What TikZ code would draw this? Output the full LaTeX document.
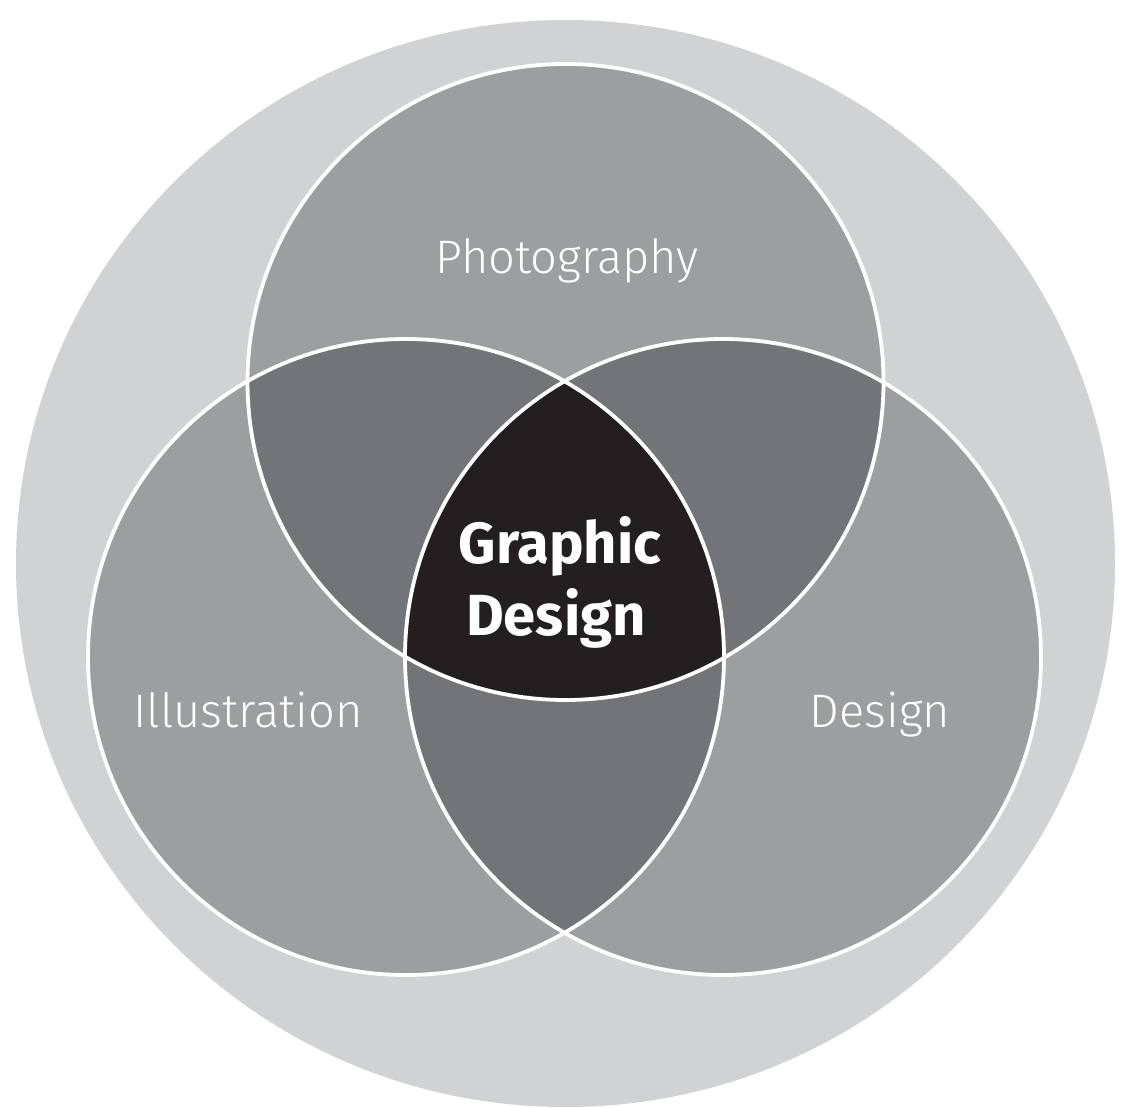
\documentclass[tikz,border=0pt]{standalone}
\usepackage{fontspec}
\setmainfont{Fira Sans}
\newfontfamily\thinfont{Fira Sans Light}
\newfontfamily\heavyfont{Fira Sans Bold}

\definecolor{ringgray}{HTML}{D1D2D4}
\definecolor{singlegray}{HTML}{9D9EA0}
\definecolor{pairgray}{HTML}{737477}
\definecolor{coregray}{HTML}{231F20}

\begin{document}
\begin{tikzpicture}[x=1pt,y=-1pt,
  area/.style={text=white, font=\thinfont\fontsize{47}{47}\selectfont, inner sep=0pt, anchor=base},
  centre/.style={text=white, font=\heavyfont\fontsize{58}{58}\selectfont, inner sep=0pt, anchor=base},
  rim/.style={draw=white, line width=3.8pt}]
\useasboundingbox (0,0) rectangle (1127,1108);

% surrounding field
\fill[ringgray] (565.5,563.5) ellipse [x radius=549.5, y radius=543.5];

% circle centres
\coordinate (P) at (565.5,382);
\coordinate (I) at (406,657);
\coordinate (D) at (723,657);
\def\rad{318}

% single discs
\fill[singlegray] (P) circle[radius=\rad];
\fill[singlegray] (I) circle[radius=\rad];
\fill[singlegray] (D) circle[radius=\rad];

% pairwise overlaps
\begin{scope}
  \clip (P) circle[radius=\rad];
  \fill[pairgray] (I) circle[radius=\rad];
  \fill[pairgray] (D) circle[radius=\rad];
\end{scope}
\begin{scope}
  \clip (I) circle[radius=\rad];
  \fill[pairgray] (D) circle[radius=\rad];
\end{scope}

% triple overlap
\begin{scope}
  \clip (P) circle[radius=\rad];
  \clip (I) circle[radius=\rad];
  \fill[coregray] (D) circle[radius=\rad];
\end{scope}

% outlines
\draw[rim] (P) circle[radius=\rad];
\draw[rim] (I) circle[radius=\rad];
\draw[rim] (D) circle[radius=\rad];

% labels
\node[area] (photo) at (567,273) {Photography};
\node[area] (illu) at (248,727) {Illustration};
\node[area] (design) at (880,727) {Design};
\node[centre] (gd1) at (560,563) {Graphic};
\node[centre] (gd2) at (556,635) {Design};
\end{tikzpicture}
\end{document}
